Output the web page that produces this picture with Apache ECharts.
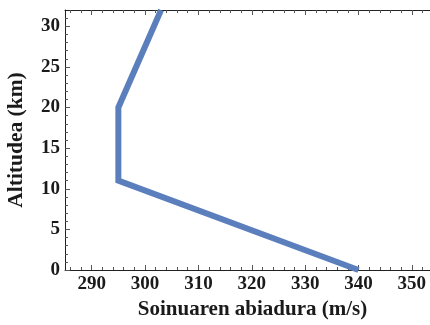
<!DOCTYPE html>
<html>
<head>
<meta charset="utf-8">
<script src="https://cdn.jsdelivr.net/npm/echarts@6/dist/echarts.min.js"></script>
<style>html,body{margin:0;padding:0;background:#fff}#c{width:430px;height:325px}</style>
</head>
<body>
<div id="c"></div>
<script>
// Data
const speed = [340, 295, 295, 303];       // m/s
const altitude = [0, 11, 20, 32];         // km
const xMajorTicks = [290, 300, 310, 320, 330, 340, 350];
const xMinorTicks = [286, 288, 292, 294, 296, 298, 302, 304, 306, 308, 312, 314, 316, 318, 322, 324, 326, 328, 332, 334, 336, 338, 342, 344, 346, 348, 352];
const yMajorTicks = [0, 5, 10, 15, 20, 25, 30];
const yMinorTicks = [1,2,3,4,6,7,8,9,11,12,13,14,16,17,18,19,21,22,23,24,26,27,28,29,31];
const xTitle = 'Soinuaren abiadura (m/s)';
const yTitle = 'Altitudea (km)';

const font = '"Liberation Serif", "Times New Roman", Times, serif';
const XMIN = 285, XMAX = 353.4, YMIN = 0, YMAX = 32;
const axisColor = '#222';
const tickColor = '#555';

function xAx(pos, ticks, len, showLine, showLabel, withName) {
  return {
    type: 'value', position: pos, min: XMIN, max: XMAX,
    splitLine: {show: false},
    axisLine: {show: showLine, lineStyle: {color: axisColor, width: 1}},
    axisTick: {show: true, inside: true, length: len, customValues: ticks, lineStyle: {color: tickColor, width: 1}},
    axisLabel: showLabel ? {show: true, customValues: ticks, color: '#1a1a1a', fontFamily: font, fontWeight: 'bold', fontSize: 19, margin: 5} : {show: false},
    name: withName ? xTitle : '',
    nameLocation: 'middle', nameGap: 26,
    nameTextStyle: {color: '#1a1a1a', fontFamily: font, fontWeight: 'bold', fontSize: 21, padding: [0, 0, 0, 10]}
  };
}
function yAx(ticks, len, showLine, showLabel, withName) {
  return {
    type: 'value', position: 'left', min: YMIN, max: YMAX,
    splitLine: {show: false},
    axisLine: {show: showLine, lineStyle: {color: axisColor, width: 1}},
    axisTick: {show: true, inside: true, length: len, customValues: ticks, lineStyle: {color: tickColor, width: 1}},
    axisLabel: showLabel ? {show: true, customValues: ticks, color: '#1a1a1a', fontFamily: font, fontWeight: 'bold', fontSize: 19, margin: 5} : {show: false},
    name: withName ? yTitle : '',
    nameLocation: 'middle', nameGap: 38, nameRotate: 90,
    nameTextStyle: {color: '#1a1a1a', fontFamily: font, fontWeight: 'bold', fontSize: 21.5}
  };
}

const chart = echarts.init(document.getElementById('c'), null, {renderer: 'canvas'});
chart.setOption({
  animation: false,
  backgroundColor: '#fff',
  grid: {left: 65, right: 0, top: 10, bottom: 55, containLabel: false, outerBoundsMode: 'none'},
  xAxis: [
    xAx('bottom', xMajorTicks, 5, true, true, true),
    xAx('bottom', xMinorTicks, 3, false, false, false),
    xAx('top', xMajorTicks, 5, true, false, false),
    xAx('top', xMinorTicks, 3, false, false, false)
  ],
  yAxis: [
    yAx(yMajorTicks, 5, true, true, true),
    yAx(yMinorTicks, 3, false, false, false)
  ],
  series: [{
    type: 'line',
    xAxisIndex: 0, yAxisIndex: 0,
    data: speed.map((s, i) => [s, altitude[i]]),
    showSymbol: false, symbol: 'none',
    lineStyle: {color: '#5b7fbd', width: 6, join: 'miter'},
    clip: true
  }]
});
</script>
</body>
</html>
